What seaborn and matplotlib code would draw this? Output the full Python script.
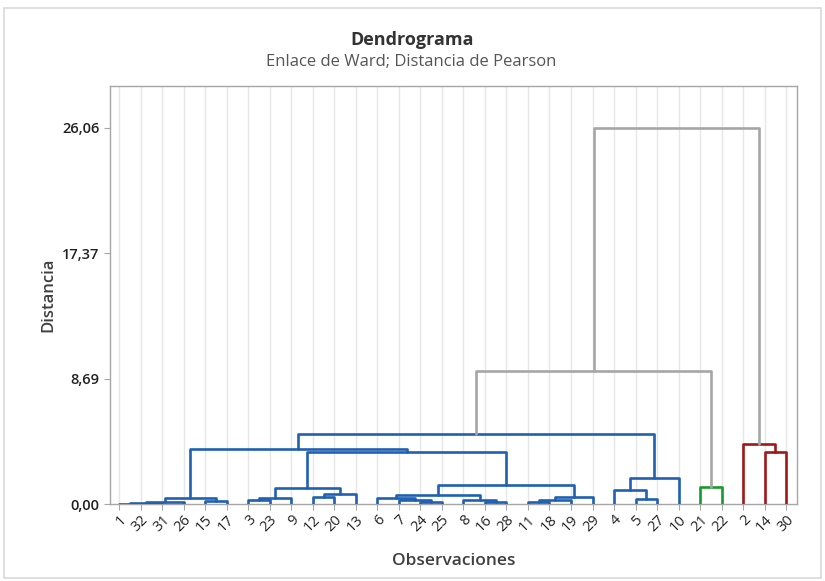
import matplotlib
matplotlib.use("Agg")
import matplotlib.pyplot as plt
from matplotlib.patches import Rectangle
import seaborn as sns

# =========================
# DATA
# =========================
leaf_order = [1, 32, 31, 26, 15, 17, 3, 23, 9, 12, 20, 13, 6, 7, 24, 25,
              8, 16, 28, 11, 18, 19, 29, 4, 5, 27, 10, 21, 22, 2, 14, 30]

# merges: (left, right, height); "cN" refers to the N-th merge
merge_left = [1, "c0", "c1", 15, "c2", 3, "c5", 12, "c7", "c6",
              24, 7, 6, 16, 8, "c12", 11, "c16", "c17", "c15",
              "c9", "c4", 5, 4, "c23", "c21", 21, "c25", 14, 2, "c27"]
merge_right = [32, 31, 26, 17, "c3", 23, 9, 20, 13, "c8",
               25, "c10", "c11", 28, "c13", "c14", 18, 19, 29, "c18",
               "c19", "c20", 27, "c22", 10, "c24", 22, "c26", 30, "c28", "c29"]
merge_height = [0.03, 0.06, 0.12, 0.2, 0.45, 0.25, 0.4, 0.5, 0.7, 1.1,
                0.15, 0.25, 0.4, 0.12, 0.3, 0.6, 0.17, 0.3, 0.5, 1.3,
                3.6, 3.82, 0.35, 1.0, 1.8, 4.86, 1.18, 9.2, 3.6, 4.15, 26.06]

clusters = [
    [1, 32, 31, 26, 15, 17, 3, 23, 9, 12, 20, 13, 6, 7, 24, 25,
     8, 16, 28, 11, 18, 19, 29, 4, 5, 27, 10],
    [21, 22],
    [2, 14, 30],
]

y_ticks = [0.0, 8.69, 17.37, 26.06]

# =========================
# STYLE
# =========================
sns.set_theme(style="white")
plt.rcParams["font.family"] = ["Open Sans", "DejaVu Sans"]

cluster_colors = ["#1f60b2", "#1a9a2a", "#a01818"]
link_grey = "#a6a6a6"

fig = plt.figure(figsize=(8.25, 5.81), dpi=100)
ax = fig.add_axes([110 / 825, 1 - 504 / 581, 687 / 825, 418 / 581])

# outer frame
fig.patches.append(Rectangle((4 / 825, 3 / 581), 817 / 825, 570 / 581,
                             transform=fig.transFigure, fill=False,
                             edgecolor="#d9d9d9", lw=1.2))

# =========================
# DENDROGRAM
# =========================
pos = {leaf: i for i, leaf in enumerate(leaf_order)}
hgt = {leaf: 0.0 for leaf in leaf_order}
members = {leaf: [leaf] for leaf in leaf_order}

for i, (a, b, h) in enumerate(zip(merge_left, merge_right, merge_height)):
    xa, xb = pos[a], pos[b]
    ha, hb = hgt[a], hgt[b]
    key = f"c{i}"
    pos[key] = (xa + xb) / 2
    hgt[key] = h
    members[key] = members[a] + members[b]

    color = link_grey
    for c, col in zip(clusters, cluster_colors):
        if set(members[key]) <= set(c):
            color = col
    ax.plot([xa, xa, xb, xb], [ha, h, h, hb], color=color, lw=1.9,
            solid_joinstyle="round", solid_capstyle="round", zorder=3)

# =========================
# AXES
# =========================
ax.set_xlim(-0.42, 31.5)
ax.set_ylim(0, 28.97)

ax.set_xticks(range(len(leaf_order)))
ax.set_xticklabels([str(l) for l in leaf_order], rotation=45, ha="right",
                   rotation_mode="anchor", fontsize=10.5, color="#222222")
ax.set_yticks(y_ticks)
ax.set_yticklabels([f"{v:.2f}".replace(".", ",") for v in y_ticks],
                   fontsize=10.5, color="#222222", fontweight="semibold")

for x in range(len(leaf_order)):
    ax.axvline(x, color="#e6e6e6", lw=1.0, zorder=1)

for s in ax.spines.values():
    s.set_color("#a6a6a6")
    s.set_linewidth(1.0)

ax.tick_params(axis="both", which="both", length=4, width=0.8,
               color="#a6a6a6", direction="out", bottom=True, left=True)
ax.tick_params(axis="x", pad=2)

ax.set_ylabel("Distancia", fontsize=12, color="#404040",
              fontweight="semibold", labelpad=4)
ax.set_xlabel("Observaciones", fontsize=12.5, color="#404040",
              fontweight="semibold", labelpad=13)

fig.text(0.499, 0.931, "Dendrograma", ha="center", va="center",
         fontsize=13, fontweight="bold", color="#333333")
fig.text(0.499, 0.893, "Enlace de Ward; Distancia de Pearson", ha="center",
         va="center", fontsize=12, color="#555555")

plt.savefig("out.png", dpi=100)
plt.close()
